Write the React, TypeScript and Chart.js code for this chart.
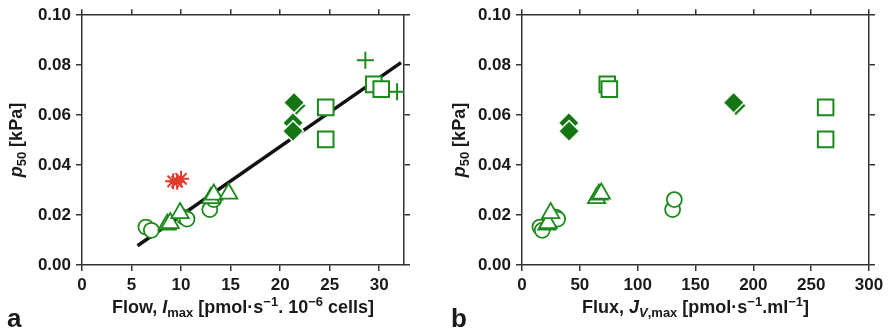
import React, { useEffect, useRef } from 'react';
import { Chart, registerables } from 'chart.js';

Chart.register(...registerables);

const FONT = '"Liberation Sans", Arial, Helvetica, sans-serif';
const GREEN = '#1b8a1b';
const DARK_GREEN = '#137613';
const RED = '#e2392b';
const INK = '#1a1a1a';

// ---- Panel a: Flow, Imax ----
const aCircleX = [6.45, 7.0, 10.3, 10.6, 12.9, 13.3];
const aCircleY = [0.0152, 0.0139, 0.0192, 0.0184, 0.0222, 0.0262];
const aTriX = [8.6, 8.9, 9.9, 13.0, 13.3, 14.8];
const aTriY = [0.0162, 0.0168, 0.0208, 0.0268, 0.0282, 0.0286];
const aDiamondX = [21.6, 21.4, 21.3, 21.3];
const aDiamondY = [0.0638, 0.065, 0.0569, 0.0536];
const aSquareX = [24.6, 24.6, 29.45, 30.2];
const aSquareY = [0.0631, 0.0503, 0.0723, 0.0704];
const aPlusX = [28.6, 31.8];
const aPlusY = [0.082, 0.0694];
const aStarX = [9.2, 9.6, 10.0];
const aStarY = [0.0335, 0.0333, 0.0345];
const aFitX = [5.6, 32.2];
const aFitY = [0.0077, 0.081];

// ---- Panel b: Flux, JV,max ----
const bCircleX = [15.5, 17.5, 29.0, 30.8, 130.2, 131.7];
const bCircleY = [0.0152, 0.0139, 0.0192, 0.0184, 0.0222, 0.0262];
const bTriX = [21.5, 22.5, 24.8, 64.5, 66.5, 68.5];
const bTriY = [0.0162, 0.0168, 0.0208, 0.0268, 0.0282, 0.0286];
const bDiamondX = [185.0, 183.0, 40.5, 40.7];
const bDiamondY = [0.0638, 0.065, 0.0569, 0.0536];
const bSquareX = [262.5, 262.5, 73.7, 75.5];
const bSquareY = [0.0631, 0.0503, 0.0723, 0.0704];

const yMin = 0;
const yMax = 0.1;
const yStep = 0.02;

type Seg = { t: string; s: number; it?: boolean; dy?: number };

function drawRich(ctx: CanvasRenderingContext2D, segs: Seg[], cx: number, cy: number, rot: boolean) {
  ctx.save();
  ctx.translate(cx, cy);
  if (rot) ctx.rotate(-Math.PI / 2);
  ctx.fillStyle = INK;
  ctx.textAlign = 'left';
  ctx.textBaseline = 'alphabetic';
  const f = (g: Seg) => `${g.it ? 'italic ' : ''}bold ${g.s}px ${FONT}`;
  let w = 0;
  segs.forEach((g) => {
    ctx.font = f(g);
    w += ctx.measureText(g.t).width;
  });
  let x = -w / 2;
  segs.forEach((g) => {
    ctx.font = f(g);
    ctx.fillText(g.t, x, g.dy || 0);
    x += ctx.measureText(g.t).width;
  });
  ctx.restore();
}

const yTitle: Seg[] = [
  { t: 'p', s: 18, it: true },
  { t: '50', s: 13, dy: 4 },
  { t: ' [kPa]', s: 18 },
];
const aXTitle: Seg[] = [
  { t: 'Flow, ', s: 18 },
  { t: 'I', s: 18, it: true },
  { t: 'max', s: 13, dy: 4 },
  { t: ' [pmol·s', s: 18 },
  { t: '\u22121', s: 13, dy: -7 },
  { t: '. 10', s: 18 },
  { t: '\u22126', s: 13, dy: -7 },
  { t: ' cells]', s: 18 },
];
const bXTitle: Seg[] = [
  { t: 'Flux, ', s: 18 },
  { t: 'J', s: 18, it: true },
  { t: 'V', s: 13, it: true, dy: 4 },
  { t: ',max', s: 13, dy: 4 },
  { t: ' [pmol·s', s: 18 },
  { t: '\u22121', s: 13, dy: -7 },
  { t: '.ml', s: 18 },
  { t: '\u22121', s: 13, dy: -7 },
  { t: ']', s: 18 },
];

function pts(xs: number[], ys: number[]) {
  return xs.map((x, i) => ({ x, y: ys[i] }));
}

function markers(label: string, xs: number[], ys: number[], style: any, r: number, border: string, bg: string, bw: number, order: number) {
  return {
    label,
    data: pts(xs, ys),
    pointStyle: style,
    pointRadius: r,
    pointHoverRadius: r,
    pointBorderColor: border,
    pointBackgroundColor: bg,
    pointBorderWidth: bw,
    showLine: false,
    order,
  };
}

function xAxis(min: number, max: number, step: number, pos: 'bottom' | 'top', size: number, labels: boolean) {
  return {
    type: 'linear',
    position: pos,
    min,
    max,
    afterFit: (s: any) => {
      s.height = size;
    },
    ticks: {
      display: labels,
      stepSize: step,
      includeBounds: false,
      padding: 4,
      color: INK,
      maxRotation: 0,
      autoSkip: false,
      font: { family: FONT, size: 17, weight: 'bold' },
      callback: (v: any) => String(v),
    },
    grid: { display: true, drawOnChartArea: false, drawTicks: true, tickLength: 6, color: '#333', lineWidth: 1.5 },
    border: { display: true, color: '#333', width: 1.5 },
  };
}

function yAxis(pos: 'left' | 'right', size: number, labels: boolean) {
  return {
    type: 'linear',
    position: pos,
    min: yMin,
    max: yMax,
    afterFit: (s: any) => {
      s.width = size;
    },
    ticks: {
      display: labels,
      stepSize: yStep,
      includeBounds: false,
      padding: 5,
      color: INK,
      font: { family: FONT, size: 17, weight: 'bold' },
      callback: (v: any) => Number(v).toFixed(2),
    },
    grid: { display: true, drawOnChartArea: false, drawTicks: true, tickLength: 6, color: '#333', lineWidth: 1.5 },
    border: { display: true, color: '#333', width: 1.5 },
  };
}

function makeConfig(p: {
  datasets: any[];
  xMax: number;
  xStep: number;
  leftW: number;
  rightW: number;
  xTitle: Seg[];
  yTitleX: number;
  letter: string;
  letterX: number;
}) {
  return {
    type: 'scatter',
    data: { datasets: p.datasets },
    options: {
      responsive: false,
      animation: false,
      devicePixelRatio: 1,
      layout: { padding: 0 },
      plugins: { legend: { display: false }, tooltip: { enabled: false } },
      scales: {
        x: xAxis(0, p.xMax, p.xStep, 'bottom', 69, true),
        x2: xAxis(0, p.xMax, p.xStep, 'top', 13, false),
        y: yAxis('left', p.leftW, true),
        y2: yAxis('right', p.rightW, false),
      },
    },
    plugins: [
      {
        id: 'richTitles',
        afterDraw(chart: any) {
          const ctx = chart.ctx as CanvasRenderingContext2D;
          const a = chart.chartArea;
          drawRich(ctx, p.xTitle, (a.left + a.right) / 2, 313, false);
          drawRich(ctx, yTitle, p.yTitleX, (a.top + a.bottom) / 2, true);
          ctx.save();
          ctx.fillStyle = INK;
          ctx.font = `bold 26px ${FONT}`;
          ctx.textAlign = 'left';
          ctx.textBaseline = 'alphabetic';
          ctx.fillText(p.letter, p.letterX, 327);
          ctx.restore();
        },
      },
    ],
  };
}

// higher `order` is drawn first (underneath)
function openSets(cx: number[], cy: number[], tx: number[], ty: number[], dx: number[], dy: number[], sx: number[], sy: number[]) {
  return [
    markers('circles', cx, cy, 'circle', 7.5, GREEN, '#ffffff', 1.8, 4),
    markers('triangles', tx, ty, 'triangle', 10, GREEN, '#ffffff', 1.8, 3),
    markers('diamonds', dx, dy, 'rectRot', 10.5, 'rgba(255,255,255,0.9)', DARK_GREEN, 1.5, 2),
    markers('squares', sx, sy, 'rect', 11, GREEN, '#ffffff', 2, 1),
  ];
}

const configA = () =>
  makeConfig({
    datasets: [
      {
        label: 'fit',
        data: pts(aFitX, aFitY),
        showLine: true,
        borderColor: '#111',
        borderWidth: 3.4,
        pointRadius: 0,
        order: 9,
      },
      ...openSets(aCircleX, aCircleY, aTriX, aTriY, aDiamondX, aDiamondY, aSquareX, aSquareY),
      markers('plus', aPlusX, aPlusY, 'cross', 8.5, GREEN, GREEN, 2, 0),
      markers('asterisk', aStarX, aStarY, 'star', 8, RED, RED, 2, 0),
    ],
    xMax: 32.5,
    xStep: 5,
    leftW: 82,
    rightW: 41,
    xTitle: aXTitle,
    yTitleX: 22,
    letter: 'a',
    letterX: 7,
  });

const configB = () =>
  makeConfig({
    datasets: openSets(bCircleX, bCircleY, bTriX, bTriY, bDiamondX, bDiamondY, bSquareX, bSquareY),
    xMax: 300,
    xStep: 50,
    leftW: 77,
    rightW: 21,
    xTitle: bXTitle,
    yTitleX: 20,
    letter: 'b',
    letterX: 6,
  });

function Panel({ make }: { make: () => any }) {
  const ref = useRef<HTMLCanvasElement | null>(null);
  useEffect(() => {
    if (!ref.current) return;
    const chart = new Chart(ref.current, make());
    return () => chart.destroy();
  }, [make]);
  return <canvas ref={ref} width={445} height={334} style={{ display: 'block', width: 445, height: 334 }} />;
}

export default function App() {
  return (
    <div style={{ position: 'absolute', left: 0, top: 0, width: 890, height: 334, display: 'flex', background: '#fff' }}>
      <Panel make={configA} />
      <Panel make={configB} />
    </div>
  );
}
